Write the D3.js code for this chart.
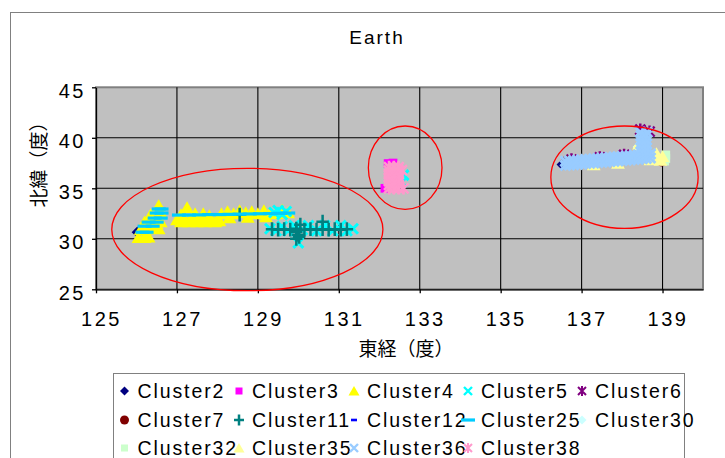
<!DOCTYPE html>
<html>
<head>
<meta charset="utf-8">
<script src="https://cdn.jsdelivr.net/npm/d3@7"></script>
<style>
  body { margin: 0; background: #fff; }
  svg { display: block; }
  text { font-family: "Liberation Sans", Arial, sans-serif; fill: #000; }
  .cjk { font-family: "Noto Sans CJK JP", "Noto Sans CJK SC", sans-serif; }
</style>
</head>
<body>
<svg id="chart" width="725" height="458"></svg>
<script>
// ---- data -------------------------------------------------------------
const chartTitle = "Earth";
const xTitle = "東経（度）";
const yTitle = "北緯（度）";
const xDomain = [125, 140];
const yDomain = [25, 45];
const xTicks = [125, 127, 129, 131, 133, 135, 137, 139];
const yTicks = [25, 30, 35, 40, 45];

// each cluster: [longitude, latitude]
const cluster2 = [[126.02, 30.65], [136.52, 37.35]];
const cluster3 = [[132.22, 37.45], [132.34, 37.5], [132.14, 35.0]];
const cluster4 = [
  [126.05, 30.15], [126.2, 30.15], [126.3, 30.2], [126.1, 30.9], [126.25, 31.0], [126.4, 31.1],
  [126.55, 31.0], [126.2, 31.7], [126.35, 31.8], [126.5, 31.5], [126.6, 31.7], [126.35, 32.4],
  [126.55, 33.3], [126.6, 32.6],
  [127.0, 31.9], [127.1, 31.7], [127.2, 31.9], [127.25, 33.1], [127.3, 31.7], [127.4, 32.0],
  [127.5, 31.7], [127.6, 31.9], [127.7, 31.7], [127.8, 32.3], [127.85, 31.8], [127.95, 31.7],
  [128.05, 31.8], [127.1, 32.4], [127.45, 32.5], [127.65, 32.5],
  [128.1, 32.5], [128.25, 32.7], [128.4, 32.5], [128.55, 32.8], [128.7, 32.6], [128.85, 32.7],
  [129.0, 32.5], [129.15, 32.8], [129.3, 32.6], [129.45, 32.5], [129.6, 32.85], [129.75, 32.6],
  [128.3, 32.1], [128.75, 32.15], [129.2, 32.2]
];
const cluster5 = [
  [129.4, 32.6], [129.5, 32.8], [129.6, 32.4], [129.7, 32.7],
  [129.3, 31.0], [129.45, 30.8], [129.6, 31.2], [129.75, 30.8], [129.9, 31.3], [130.0, 29.6],
  [130.1, 30.9], [130.25, 31.3], [130.45, 30.8], [130.65, 31.3], [130.85, 30.8], [131.05, 31.3],
  [131.2, 30.8], [131.35, 31.0],
  [132.6, 36.3], [132.55, 35.6]
];
const cluster6 = [[136.75, 37.85], [137.45, 38.05], [138.05, 38.3], [138.45, 40.8], [138.68, 40.6]];
const cluster7 = [[136.64, 37.7], [138.98, 37.72]];
const cluster11 = [
  [129.35, 30.95], [129.5, 30.9], [129.65, 30.95], [129.8, 30.9], [129.95, 31.0], [130.0, 30.4],
  [129.95, 30.0], [130.05, 31.4], [130.15, 30.9], [130.3, 30.95], [130.45, 30.9], [130.6, 30.95],
  [130.75, 30.9], [130.9, 30.95], [131.05, 30.9], [131.2, 30.95], [130.6, 31.7], [128.55, 32.4],
  [129.95, 30.7], [130.02, 30.2]
];
const cluster12 = [[136.6, 37.3]];
const cluster25 = [
  [126.15, 30.65], [126.25, 30.65], [126.2, 31.25], [126.4, 31.25], [126.3, 31.65], [126.5, 31.65],
  [126.45, 32.05], [126.6, 32.05], [126.5, 32.55], [126.62, 32.55], [126.55, 32.95], [126.62, 32.95],
  [127.05, 32.35], [127.3, 32.35], [127.55, 32.37], [127.8, 32.4], [128.05, 32.4], [128.3, 32.42],
  [128.55, 32.44], [128.8, 32.46], [129.05, 32.48], [129.3, 32.5], [129.55, 32.52], [129.75, 32.55]
];
const cluster30 = [[138.4, 39.1]];
const cluster32 = [[139.08, 38.3], [139.08, 37.95], [139.05, 37.7]];
const cluster35 = [
  [138.75, 38.2], [138.85, 38.0], [138.95, 37.8], [138.85, 38.45], [139.0, 38.15], [138.7, 37.85],
  [138.42, 39.4], [137.3, 37.35], [137.9, 37.5]
];
const cluster36 = [
  [136.6, 37.27], [136.6, 37.67], [136.7, 37.31], [136.7, 37.71], [136.8, 37.34], [136.8, 37.74],
  [136.9, 37.38], [136.9, 37.78], [137.0, 37.41], [137.0, 37.81], [137.1, 37.45], [137.1, 37.85],
  [137.2, 37.48], [137.2, 37.88], [137.3, 37.51], [137.3, 37.91], [137.4, 37.55], [137.4, 37.95],
  [137.5, 37.58], [137.5, 37.98], [137.6, 37.62], [137.6, 38.02], [137.7, 37.65], [137.7, 38.05],
  [137.8, 37.69], [137.8, 38.09], [137.9, 37.72], [137.9, 38.12], [138.0, 37.75], [138.0, 38.15],
  [138.1, 37.79], [138.1, 38.19], [138.2, 37.82], [138.2, 38.22], [138.3, 37.86], [138.3, 38.26],
  [138.4, 37.89], [138.4, 38.29], [138.5, 37.93], [138.5, 38.33], [138.6, 37.96], [138.6, 38.36],
  [138.7, 38.0], [138.7, 38.4],
  [138.47, 38.6], [138.6, 38.6], [138.47, 39.0], [138.6, 39.0], [138.47, 39.4], [138.6, 39.4],
  [138.47, 39.8], [138.6, 39.8], [138.47, 40.2], [138.6, 40.2], [138.45, 40.55], [138.62, 40.55]
];
const cluster38 = [
  [132.24, 35.0], [132.36, 35.0], [132.48, 35.0], [132.24, 35.35], [132.36, 35.35], [132.48, 35.35],
  [132.24, 35.7], [132.36, 35.7], [132.48, 35.7], [132.24, 36.05], [132.36, 36.05], [132.48, 36.05],
  [132.24, 36.4], [132.36, 36.4], [132.48, 36.4], [132.24, 36.75], [132.36, 36.75], [132.48, 36.75],
  [132.24, 37.1], [132.36, 37.1], [132.48, 37.1], [132.6, 35.0], [132.56, 36.8]
];

const seriesNames = ["Cluster2", "Cluster3", "Cluster4", "Cluster5", "Cluster6", "Cluster7",
  "Cluster11", "Cluster12", "Cluster25", "Cluster30", "Cluster32", "Cluster35", "Cluster36", "Cluster38"];
const seriesValues = [cluster2, cluster3, cluster4, cluster5, cluster6, cluster7,
  cluster11, cluster12, cluster25, cluster30, cluster32, cluster35, cluster36, cluster38];

// highlighted regions: [centre lon, centre lat, radius lon, radius lat]
const regions = [[128.74, 30.92, 3.35, 6.06], [132.64, 37.04, 0.91, 4.13], [138.06, 36.10, 1.82, 5.07]];

// ---- styles -----------------------------------------------------------
const seriesColor = ["#000080", "#FF00FF", "#FFFF00", "#00FFFF", "#800080", "#800000",
  "#008080", "#0000FF", "#00CCFF", "#CCFFFF", "#CCFFCC", "#FFFF99", "#99CCFF", "#FF99CC"];
const seriesShape = ["diamond", "square", "triangle", "x", "star", "circle",
  "plus", "shortdash", "longdash", "diamond", "square", "triangle", "x", "star"];

// marker painters, centred on 0,0 (k scales the plot markers)
function drawMarker(g, shape, color, k) {
  const s = k || 1;
  switch (shape) {
    case "diamond":
      g.append("path").attr("d", `M0,${-4.5*s}L${4.5*s},0L0,${4.5*s}L${-4.5*s},0Z`).attr("fill", color); break;
    case "square":
      g.append("rect").attr("x", -3.5*s).attr("y", -3.5*s).attr("width", 7*s).attr("height", 7*s).attr("fill", color); break;
    case "triangle":
      g.append("path").attr("d", `M0,${-5*s}L${5.5*s},${4.5*s}L${-5.5*s},${4.5*s}Z`).attr("fill", color); break;
    case "circle":
      g.append("circle").attr("r", 4.5*s).attr("fill", color); break;
    case "x":
      g.append("path").attr("d", `M${-4*s},${-4*s}L${4*s},${4*s}M${-4*s},${4*s}L${4*s},${-4*s}`)
        .attr("stroke", color).attr("stroke-width", 2.4*s).attr("fill", "none"); break;
    case "star":
      g.append("path").attr("d", `M${-4*s},${-4*s}L${4*s},${4*s}M${-4*s},${4*s}L${4*s},${-4*s}M0,${-5*s}L0,${5*s}`)
        .attr("stroke", color).attr("stroke-width", 2*s).attr("fill", "none"); break;
    case "plus":
      g.append("path").attr("d", `M${-5*s},0L${5*s},0M0,${-5.5*s}L0,${5.5*s}`)
        .attr("stroke", color).attr("stroke-width", 2.5).attr("fill", "none"); break;
    case "shortdash":
      g.append("rect").attr("x", -3).attr("y", -1.3).attr("width", 6).attr("height", 2.6).attr("fill", color); break;
    case "longdash":
      g.append("rect").attr("x", -7).attr("y", -1.6).attr("width", 14).attr("height", 3.2).attr("fill", color); break;
  }
}

// ---- layout -----------------------------------------------------------
const svg = d3.select("#chart");
const plot = { left: 96, right: 703, top: 87.3, bottom: 289.3 };
const x = d3.scaleLinear().domain(xDomain).range([plot.left, plot.right]);
const y = d3.scaleLinear().domain(yDomain).range([plot.bottom, plot.top]);

// chart area frame
svg.append("rect").attr("x", 10.5).attr("y", 12.5).attr("width", 800).attr("height", 600)
  .attr("fill", "#fff").attr("stroke", "#808080").attr("stroke-width", 1);

// title
svg.append("text").attr("x", 377).attr("y", 44).attr("text-anchor", "middle")
  .style("font-size", "19px").style("letter-spacing", "2px").text(chartTitle);

// plot background
svg.append("rect").attr("x", plot.left).attr("y", plot.top)
  .attr("width", plot.right - plot.left).attr("height", plot.bottom - plot.top)
  .attr("fill", "#C0C0C0").attr("stroke", "#808080").attr("stroke-width", 2);

// gridlines
svg.append("g").selectAll("line").data(xTicks.filter(v => v > xDomain[0])).join("line")
  .attr("x1", d => x(d)).attr("x2", d => x(d)).attr("y1", plot.top).attr("y2", plot.bottom)
  .attr("stroke", "#000").attr("stroke-width", 1.1);
svg.append("g").selectAll("line").data(yTicks.filter(v => v > yDomain[0] && v < yDomain[1])).join("line")
  .attr("x1", plot.left).attr("x2", plot.right).attr("y1", d => y(d)).attr("y2", d => y(d))
  .attr("stroke", "#000").attr("stroke-width", 1.1);

// axes
const xAxis = svg.append("g").attr("transform", `translate(0,${plot.bottom})`)
  .call(d3.axisBottom(x).tickValues(xTicks).tickSize(4).tickSizeOuter(0).tickPadding(19));
xAxis.selectAll("text").attr("dx", 5).style("font-size", "20px").style("letter-spacing", "2.5px")
  .style("font-family", '"Liberation Sans", Arial, sans-serif');
const yAxis = svg.append("g").attr("transform", `translate(${plot.left},0)`)
  .call(d3.axisLeft(y).tickValues(yTicks).tickSize(4).tickSizeOuter(0).tickPadding(6));
yAxis.selectAll("text").attr("dy", "0.5em").style("font-size", "20px").style("letter-spacing", "2.5px")
  .style("font-family", '"Liberation Sans", Arial, sans-serif');
svg.selectAll(".domain, .tick line").attr("stroke", "#000").attr("stroke-width", 1.3);

// axis titles
svg.append("text").attr("class", "cjk").attr("x", 406).attr("y", 356).attr("text-anchor", "middle")
  .style("font-size", "19px").text(xTitle);
svg.append("text").attr("class", "cjk").attr("transform", "translate(46,160) rotate(-90)")
  .attr("text-anchor", "middle").style("font-size", "19px").text(yTitle);

// series
const plotMarkerScale = 1.25;
seriesValues.forEach((pts, i) => {
  const g = svg.append("g");
  pts.forEach(p => {
    const m = g.append("g").attr("transform", `translate(${x(p[0])},${y(p[1])})`);
    drawMarker(m, seriesShape[i], seriesColor[i], plotMarkerScale);
  });
});

// highlighted regions
svg.append("g").selectAll("ellipse").data(regions).join("ellipse")
  .attr("cx", d => x(d[0])).attr("cy", d => y(d[1]))
  .attr("rx", d => x(d[0] + d[2]) - x(d[0])).attr("ry", d => y(d[1]) - y(d[1] + d[3]))
  .attr("fill", "none").attr("stroke", "#FF0000").attr("stroke-width", 1.3);

// legend
const legend = svg.append("g");
legend.append("rect").attr("x", 113.5).attr("y", 373.5).attr("width", 571).attr("height", 120)
  .attr("fill", "#fff").attr("stroke", "#808080").attr("stroke-width", 1);
const colX = [124.5, 239, 354, 468, 582];
const rowY = [391, 420, 448];
seriesNames.forEach((name, i) => {
  const cx = colX[i % 5], cy = rowY[Math.floor(i / 5)];
  const m = legend.append("g").attr("transform", `translate(${cx},${cy})`);
  drawMarker(m, seriesShape[i], seriesColor[i], 1);
  legend.append("text").attr("x", cx + 13).attr("y", cy + 7)
    .style("font-size", "19.5px").style("letter-spacing", "1.9px").text(name);
});
</script>
</body>
</html>
